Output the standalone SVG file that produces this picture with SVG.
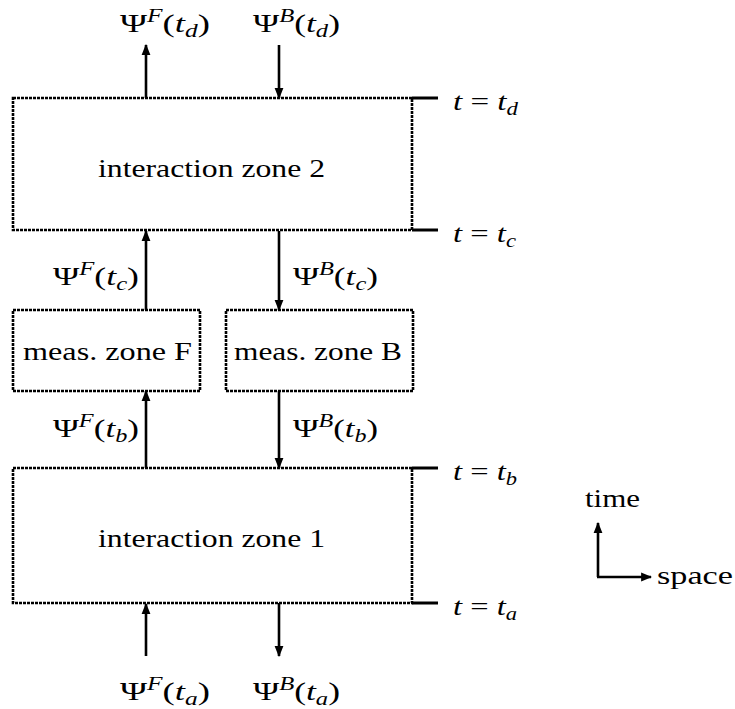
<svg xmlns="http://www.w3.org/2000/svg" width="735" height="709" viewBox="0 0 735 709">
<defs>
<marker id="ah" viewBox="0 0 10 10" refX="9" refY="5" markerWidth="11" markerHeight="11" markerUnits="userSpaceOnUse" orient="auto">
<path d="M0,1 L10,5 L0,9 z" fill="#000"/>
</marker>
</defs>
<style>
.zone{fill:none;stroke:#000;stroke-width:2.6;stroke-dasharray:3 1}
.arr{stroke:#000;stroke-width:2.6;fill:none;marker-end:url(#ah)}
.tick{stroke:#000;stroke-width:3}
.it{font-style:italic}
.sup{font-size:18px;font-style:italic}
.sub{font-size:18px;font-style:italic}
</style>
<rect width="735" height="709" fill="#fff"/>
<g font-family="'Liberation Serif', 'Times New Roman', 'DejaVu Serif', serif" font-size="26" fill="#000">
<g id="zone2">
<rect class="zone" x="13" y="98" width="399" height="132"/>
<text x="98" y="177" textLength="227" lengthAdjust="spacingAndGlyphs">interaction zone 2</text>
</g>
<g id="measF">
<rect class="zone" x="13" y="310" width="187" height="81"/>
<text x="23" y="360" textLength="169" lengthAdjust="spacingAndGlyphs">meas. zone F</text>
</g>
<g id="measB">
<rect class="zone" x="226" y="310" width="187" height="81"/>
<text x="234" y="360" textLength="168" lengthAdjust="spacingAndGlyphs">meas. zone B</text>
</g>
<g id="zone1">
<rect class="zone" x="13" y="468" width="399" height="135"/>
<text x="98" y="547" textLength="227" lengthAdjust="spacingAndGlyphs">interaction zone 1</text>
</g>
<g id="ticks">
<line class="tick" x1="412" y1="98" x2="438" y2="98"/>
<line class="tick" x1="412" y1="230" x2="438" y2="230"/>
<line class="tick" x1="412" y1="468" x2="438" y2="468"/>
<line class="tick" x1="412" y1="603" x2="438" y2="603"/>
<text x="453" y="110" textLength="65" lengthAdjust="spacingAndGlyphs"><tspan class="it">t</tspan> = <tspan class="it">t</tspan><tspan class="sub" dy="5">d</tspan></text>
<text x="453" y="242" textLength="63" lengthAdjust="spacingAndGlyphs"><tspan class="it">t</tspan> = <tspan class="it">t</tspan><tspan class="sub" dy="5">c</tspan></text>
<text x="453" y="480" textLength="64" lengthAdjust="spacingAndGlyphs"><tspan class="it">t</tspan> = <tspan class="it">t</tspan><tspan class="sub" dy="5">b</tspan></text>
<text x="453" y="615" textLength="64" lengthAdjust="spacingAndGlyphs"><tspan class="it">t</tspan> = <tspan class="it">t</tspan><tspan class="sub" dy="5">a</tspan></text>
</g>
<g id="connectors">
<line class="arr" x1="146" y1="98" x2="146" y2="45"/>
<line class="arr" x1="279" y1="45" x2="279" y2="98"/>
<line class="arr" x1="146" y1="310" x2="146" y2="231"/>
<line class="arr" x1="279" y1="231" x2="279" y2="310"/>
<line class="arr" x1="146" y1="468" x2="146" y2="391"/>
<line class="arr" x1="279" y1="391" x2="279" y2="468"/>
<line class="arr" x1="146" y1="656" x2="146" y2="604"/>
<line class="arr" x1="279" y1="603" x2="279" y2="656"/>
</g>
<g id="labels">
<text x="120" y="32" textLength="90" lengthAdjust="spacingAndGlyphs">Ψ<tspan class="sup" dy="-10">F</tspan><tspan dy="10">(</tspan><tspan class="it">t</tspan><tspan class="sub" dy="5">d</tspan><tspan dy="-5">)</tspan></text>
<text x="253" y="32" textLength="87" lengthAdjust="spacingAndGlyphs">Ψ<tspan class="sup" dy="-10">B</tspan><tspan dy="10">(</tspan><tspan class="it">t</tspan><tspan class="sub" dy="5">d</tspan><tspan dy="-5">)</tspan></text>
<text x="53" y="285" textLength="86" lengthAdjust="spacingAndGlyphs">Ψ<tspan class="sup" dy="-10">F</tspan><tspan dy="10">(</tspan><tspan class="it">t</tspan><tspan class="sub" dy="5">c</tspan><tspan dy="-5">)</tspan></text>
<text x="293" y="285" textLength="85" lengthAdjust="spacingAndGlyphs">Ψ<tspan class="sup" dy="-10">B</tspan><tspan dy="10">(</tspan><tspan class="it">t</tspan><tspan class="sub" dy="5">c</tspan><tspan dy="-5">)</tspan></text>
<text x="53" y="437" textLength="86" lengthAdjust="spacingAndGlyphs">Ψ<tspan class="sup" dy="-10">F</tspan><tspan dy="10">(</tspan><tspan class="it">t</tspan><tspan class="sub" dy="5">b</tspan><tspan dy="-5">)</tspan></text>
<text x="293" y="437" textLength="85" lengthAdjust="spacingAndGlyphs">Ψ<tspan class="sup" dy="-10">B</tspan><tspan dy="10">(</tspan><tspan class="it">t</tspan><tspan class="sub" dy="5">b</tspan><tspan dy="-5">)</tspan></text>
<text x="120" y="700" textLength="90" lengthAdjust="spacingAndGlyphs">Ψ<tspan class="sup" dy="-10">F</tspan><tspan dy="10">(</tspan><tspan class="it">t</tspan><tspan class="sub" dy="5">a</tspan><tspan dy="-5">)</tspan></text>
<text x="253" y="700" textLength="87" lengthAdjust="spacingAndGlyphs">Ψ<tspan class="sup" dy="-10">B</tspan><tspan dy="10">(</tspan><tspan class="it">t</tspan><tspan class="sub" dy="5">a</tspan><tspan dy="-5">)</tspan></text>
</g>
<g id="axes">
<path d="M598,577 L598,523" class="arr"/>
<path d="M597,577 L651,577" class="arr"/>
<text x="585" y="507" textLength="55" lengthAdjust="spacingAndGlyphs">time</text>
<text x="657" y="584" textLength="76" lengthAdjust="spacingAndGlyphs">space</text>
</g>
</g>
</svg>
